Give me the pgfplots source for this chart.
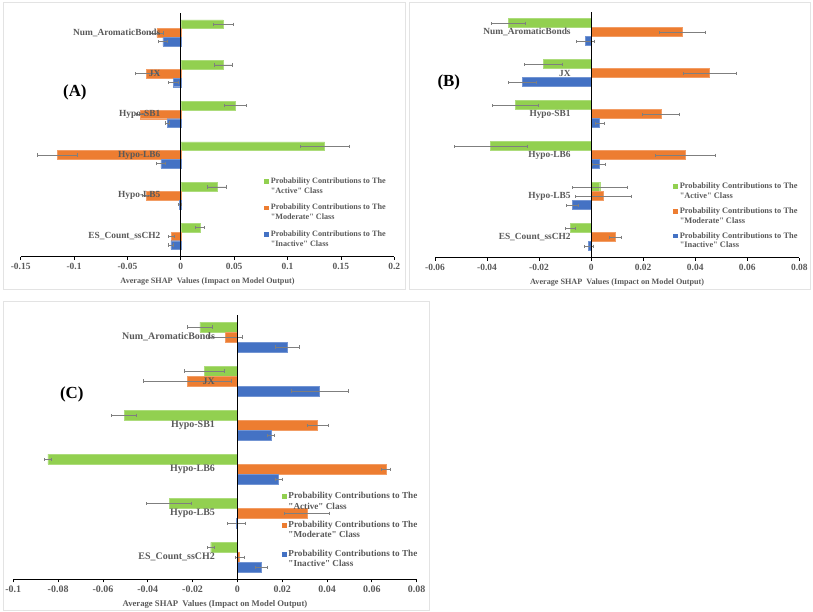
\documentclass[border=0pt]{standalone}
\usepackage{pgfplots}
\pgfplotsset{compat=1.18}
\usepackage{fontspec}
\setmainfont{Liberation Serif}[Ligatures=TeXOff]

\definecolor{cgreen}{HTML}{92D050}
\definecolor{corange}{HTML}{ED7D31}
\definecolor{cblue}{HTML}{4472C4}
\definecolor{txtgray}{HTML}{595959}
\definecolor{errgray}{HTML}{7F7F7F}
\definecolor{framegray}{HTML}{E3E3E3}

\pgfplotsset{
  shap/.style={
    scale only axis,
    axis on top,
    xbar,
    axis x line=bottom,
    axis y line=middle,
    axis line style={-, black, line width=1.1pt},
    ymin=-0.5, ymax=5.5,
    ytick={0,1,2,3,4,5},
    yticklabels={ES\_Count\_ssCH2, Hypo-LB5, Hypo-LB6, Hypo-SB1, JX, Num\_AromaticBonds},
    y tick style={draw=none},
    major tick length=3bp,
    x tick style={black, line width=0.8pt},
    tick align=outside,
    scaled x ticks=false,
    x tick label style={font=\fontsize{9.5}{11}\selectfont\bfseries, text=txtgray},
    xlabel={Average SHAP\ \ Values (Impact on Model Output)},
    xlabel style={font=\fontsize{8.2}{10}\selectfont\bfseries, text=txtgray,
      at={(axis description cs:0.5,0)}, anchor=center, yshift=-25bp},
    legend image code/.code={\fill[##1,draw=none] (0bp,2.4bp) rectangle (4.8bp,7.2bp);},
    legend style={draw=none, fill=none, inner sep=0pt,
      nodes={align=left, text=txtgray, inner sep=1.5bp}},
    err/.style={error bars/.cd, x dir=both, x explicit,
      error mark=|,
      error bar style={errgray, line width=0.5pt},
      error mark options={errgray, mark size=1.6bp, line width=0.5pt}},
  },
}

\begin{document}
\begin{tikzpicture}
\path (0bp,0bp) rectangle (813bp,612bp);
\draw[framegray, line width=0.6pt] (3bp,323bp) rectangle (405bp,610bp);
\draw[framegray, line width=0.6pt] (409bp,323bp) rectangle (810bp,610bp);
\draw[framegray, line width=0.6pt] (3bp,2bp) rectangle (429bp,311bp);

% ---------------- (A)
\begin{axis}[shap,
  at={(20.7bp,355.3bp)}, anchor=south west,
  width=373.6bp, height=244bp,
  xmin=-0.15, xmax=0.2,
  xtick={-0.15,-0.1,-0.05,0,0.05,0.1,0.15,0.2},
  xticklabels={-0.15,-0.1,-0.05,0,0.05,0.1,0.15,0.2},
  yticklabel style={font=\fontsize{9.4}{11}\selectfont\bfseries, text=txtgray, xshift=-14bp},
  legend style={at={(0.652,0.33)}, anchor=north west, row sep=6.5bp,
    nodes={font=\fontsize{8.2}{9.8}\selectfont\bfseries}},
]
\addplot[fill=cgreen, draw=cgreen!75!white, bar width=8.7bp, bar shift=8.7bp, err]
  coordinates {(0.0178,0) +- (0.004,0) (0.0337,1) +- (0.0087,0) (0.1347,2) +- (0.023,0)
               (0.051,3) +- (0.0106,0) (0.040,4) +- (0.0086,0) (0.0397,5) +- (0.0094,0)};
\addlegendentry{Probability Contributions to The\\"Active" Class}
\addplot[fill=corange, draw=corange!75!white, bar width=8.7bp, bar shift=0bp, err]
  coordinates {(-0.0087,0) +- (0.003,0) (-0.0325,1) +- (0.004,0) (-0.1156,2) +- (0.019,0)
               (-0.038,3) +- (0.004,0) (-0.032,4) +- (0.0107,0) (-0.0225,5) +- (0.006,0)};
\addlegendentry{Probability Contributions to The\\"Moderate" Class}
\addplot[fill=cblue, draw=cblue!75!white, bar width=8.7bp, bar shift=-8.7bp, err]
  coordinates {(-0.0094,0) +- (0.002,0) (-0.0012,1) +- (0.0015,0) (-0.0187,2) +- (0.004,0)
               (-0.0128,3) +- (0.002,0) (-0.0072,4) +- (0.005,0) (-0.0169,5) +- (0.004,0)};
\addlegendentry{Probability Contributions to The\\"Inactive" Class}
\node[font=\fontsize{17}{20}\selectfont\bfseries] at (rel axis cs:0.145,0.675) {(A)};
\end{axis}

% ---------------- (B)
\begin{axis}[shap,
  at={(435bp,354.3bp)}, anchor=south west,
  width=364.3bp, height=246bp,
  xmin=-0.06, xmax=0.08,
  xtick={-0.06,-0.04,-0.02,0,0.02,0.04,0.06,0.08},
  xticklabels={-0.06,-0.04,-0.02,0,0.02,0.04,0.06,0.08},
  yticklabel style={font=\fontsize{9.4}{11}\selectfont\bfseries, text=txtgray, xshift=-14bp},
  legend style={at={(0.654,0.31)}, anchor=north west, row sep=4.5bp,
    nodes={font=\fontsize{8.4}{9.8}\selectfont\bfseries}},
]
\addplot[fill=cgreen, draw=cgreen!75!white, bar width=9bp, bar shift=9bp, err]
  coordinates {(-0.008,0) +- (0.002,0) (0.0033,1) +- (0.0104,0) (-0.0386,2) +- (0.014,0)
               (-0.0292,3) +- (0.0087,0) (-0.0184,4) +- (0.0072,0) (-0.0319,5) +- (0.0066,0)};
\addlegendentry{Probability Contributions to The\\"Active" Class}
\addplot[fill=corange, draw=corange!75!white, bar width=9bp, bar shift=0bp, err]
  coordinates {(0.0093,0) +- (0.0023,0) (0.0046,1) +- (0.0107,0) (0.0362,2) +- (0.0115,0)
               (0.0268,3) +- (0.0072,0) (0.0455,4) +- (0.0102,0) (0.035,5) +- (0.0088,0)};
\addlegendentry{Probability Contributions to The\\"Moderate" Class}
\addplot[fill=cblue, draw=cblue!75!white, bar width=9bp, bar shift=-9bp, err]
  coordinates {(-0.001,0) +- (0.0018,0) (-0.0073,1) +- (0.0023,0) (0.003,2) +- (0.0025,0)
               (0.0032,3) +- (0.0018,0) (-0.0264,4) +- (0.0053,0) (-0.0022,5) +- (0.0035,0)};
\addlegendentry{Probability Contributions to The\\"Inactive" Class}
\node[font=\fontsize{17}{20}\selectfont\bfseries] at (rel axis cs:0.038,0.714) {(B)};
\end{axis}

% ---------------- (C)
\begin{axis}[shap,
  at={(13.3bp,32.7bp)}, anchor=south west,
  width=403.4bp, height=264.3bp,
  xmin=-0.1, xmax=0.08,
  xtick={-0.1,-0.08,-0.06,-0.04,-0.02,0,0.02,0.04,0.06,0.08},
  xticklabels={-0.1,-0.08,-0.06,-0.04,-0.02,0,0.02,0.04,0.06,0.08},
  x tick label style={font=\fontsize{10}{12}\selectfont\bfseries},
  xlabel style={font=\fontsize{8.7}{10}\selectfont\bfseries},
  yticklabel style={font=\fontsize{10}{12}\selectfont\bfseries, text=txtgray, xshift=-16bp},
  legend style={at={(0.666,0.335)}, anchor=north west, row sep=7.5bp,
    nodes={font=\fontsize{9.2}{10.4}\selectfont\bfseries}},
]
\addplot[fill=cgreen, draw=cgreen!75!white, bar width=10bp, bar shift=10bp, err]
  coordinates {(-0.0119,0) +- (0.0016,0) (-0.0305,1) +- (0.01,0) (-0.0846,2) +- (0.0017,0)
               (-0.0506,3) +- (0.0055,0) (-0.0146,4) +- (0.0089,0) (-0.0168,5) +- (0.0054,0)};
\addlegendentry{Probability Contributions to The\\"Active" Class}
\addplot[fill=corange, draw=corange!75!white, bar width=10bp, bar shift=0bp, err]
  coordinates {(0.001,0) +- (0.002,0) (0.0311,1) +- (0.01,0) (0.0662,2) +- (0.0019,0)
               (0.0357,3) +- (0.0047,0) (-0.0222,4) +- (0.0196,0) (-0.0055,5) +- (0.0076,0)};
\addlegendentry{Probability Contributions to The\\"Moderate" Class}
\addplot[fill=cblue, draw=cblue!75!white, bar width=10bp, bar shift=-10bp, err]
  coordinates {(0.0107,0) +- (0.0026,0) (-0.0005,1) +- (0.004,0) (0.0183,2) +- (0.0015,0)
               (0.0149,3) +- (0.0017,0) (0.0367,4) +- (0.0129,0) (0.0223,5) +- (0.0052,0)};
\addlegendentry{Probability Contributions to The\\"Inactive" Class}
\node[font=\fontsize{17}{20}\selectfont\bfseries] at (rel axis cs:0.145,0.70) {(C)};
\end{axis}
\end{tikzpicture}
\end{document}
